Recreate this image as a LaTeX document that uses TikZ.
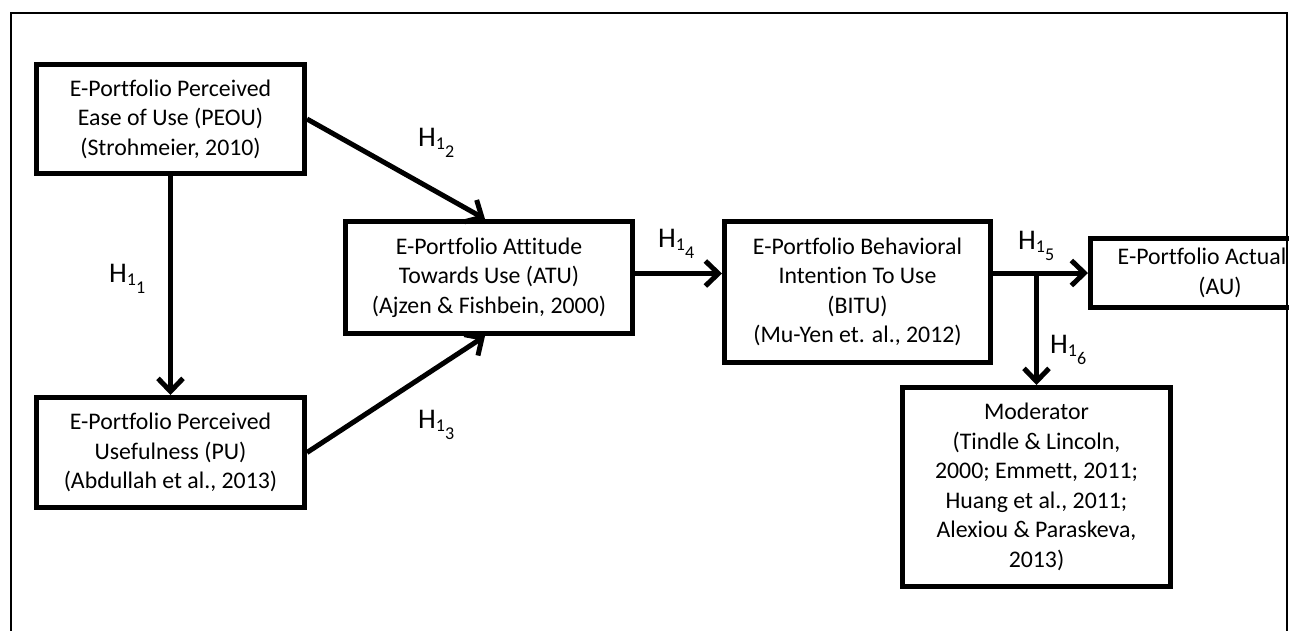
\documentclass[tikz,border=0pt]{standalone}
\usepackage{fontspec}
\setmainfont{Carlito}[Ligatures={NoCommon}]
\usetikzlibrary{arrows.meta,calc}
\newcommand\hyp[1]{H\raisebox{-3pt}{\fontsize{18}{18}\selectfont 1\raisebox{-8pt}{#1}}}
\tikzset{
  box/.style={draw, line width=5pt, align=center, inner sep=0pt,
    font=\fontsize{23.8}{29.5}\selectfont},
  conn/.style={line width=5pt, -{Straight Barb[length=13pt,width=25pt]}},
  hlab/.style={anchor=base west, inner sep=0pt, font=\fontsize{28.5}{28.5}\selectfont}
}
\begin{document}
\begin{tikzpicture}[x=1pt,y=-1pt]
\useasboundingbox (0,0) rectangle (1289,630);
\begin{scope}
\clip (0,0) rectangle (1289,630);
\draw[line width=2pt] (11,640) -- (11,13) -- (1287,13) -- (1287,640);

\node[box, minimum width=268pt, minimum height=109pt] (peou) at (170.5,119)
  {E-Portfolio Perceived\\Ease of Use (PEOU)\\(Strohmeier, 2010)};
\node[box, minimum width=268pt, minimum height=110pt] (pu) at (170.5,452.5)
  {E-Portfolio Perceived\\Usefulness (PU)\\(Abdullah et al., 2013)};
\node[box, minimum width=287pt, minimum height=112pt] (atu) at (489,277.5)
  {E-Portfolio Attitude\\Towards Use (ATU)\\(Ajzen \& Fishbein, 2000)};
\node[box, minimum width=266pt, minimum height=141pt] (bitu) at (857.5,292)
  {E-Portfolio Behavioral\\Intention To Use\\(BITU)\\(Mu-Yen et. al., 2012)};
\node[box, minimum width=223pt, minimum height=69pt] (au) at (1202,273)
  {E-Portfolio Actual\\\hspace*{36pt}(AU)};
\node[box, minimum width=268pt, minimum height=199pt] (mod) at (1036.5,487)
  {Moderator\\(Tindle \& Lincoln,\\2000; Emmett, 2011;\\Huang et al., 2011;\\Alexiou \& Paraskeva,\\2013)};

\draw[conn] (peou.south) -- (pu.north);
\draw[conn] (peou.east) -- ([xshift=-4pt]atu.north);
\draw[conn] (pu.east) -- ([xshift=-4pt]atu.south);
\coordinate (a4) at ([yshift=4pt]atu.east);
\draw[conn] (a4) -- (a4 -| bitu.west);
\draw[conn] (au.west -| bitu.east) -- (au.west);
\coordinate (j6) at (mod.north |- au.west);
\draw[conn] (j6) -- (mod.north);

\node[hlab] (h1) at (109,282) {\hyp{1}};
\node[hlab] (h2) at (418,146) {\hyp{2}};
\node[hlab] (h3) at (418,428) {\hyp{3}};
\node[hlab] (h4) at (658,247) {\hyp{4}};
\node[hlab] (h5) at (1018,249) {\hyp{5}};
\node[hlab] (h6) at (1050,353) {\hyp{6}};
\end{scope}
\end{tikzpicture}
\end{document}
